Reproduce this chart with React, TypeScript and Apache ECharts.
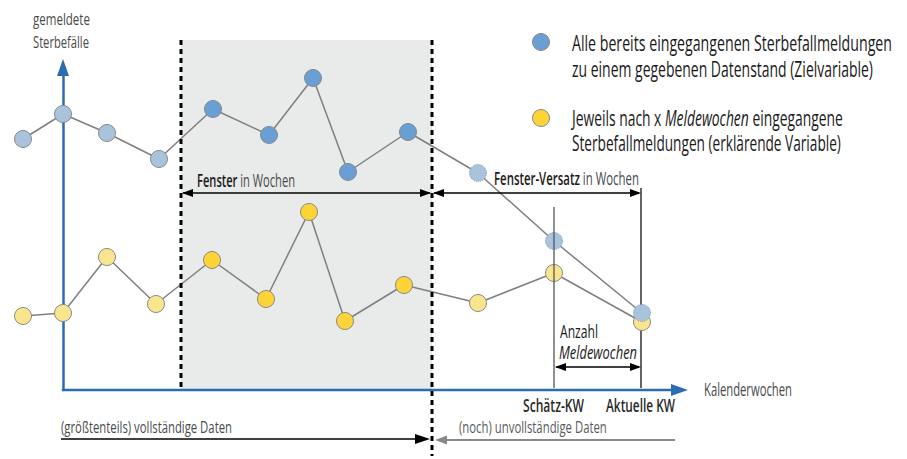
import React, { useEffect, useRef } from "react";
import * as echarts from "echarts";

// ---- data (x = position along calendar-week axis, y = reported deaths, schematic units)
const blueX = [-40, 0, 44, 96, 150, 206, 250, 285, 345, 415, 491, 579];
const blueY = [251, 276, 257, 231, 281, 255, 312, 218, 258, 217, 149, 77];
const yellowX = [-40, 0, 44, 93, 149, 203, 246, 282, 341, 415, 491, 579];
const yellowY = [74, 77, 133, 86, 130, 91, 178, 69, 105, 87, 117, 68];
const windowStart = 118;
const windowEnd = 369;
const estimateWeek = 491;
const currentWeek = 578;

const yAxisTitle = ["gemeldete", "Sterbefälle"];
const xAxisTitle = "Kalenderwochen";
const legendBlue = ["Alle bereits eingegangenen Sterbefallmeldungen", "zu einem gegebenen Datenstand (Zielvariable)"];
const legendYellowA = ["Jeweils nach x ", "Meldewochen", " eingegangene"];
const legendYellowB = "Sterbefallmeldungen (erklärende Variable)";

const FONT = "'Open Sans', 'Noto Sans', 'DejaVu Sans', sans-serif";
const AXIS_BLUE = "#2c6cb2";
const BLUE_DARK = "#699fd4";
const BLUE_LIGHT = "#a9c3dd";
const YEL_DARK = "#fdd438";
const YEL_LIGHT = "#fae58f";

function pointStyle(x: number, kind: "blue" | "yellow") {
  const inWin = x >= windowStart && x <= windowEnd;
  const future = x > windowEnd;
  if (kind === "blue") {
    return {
      color: inWin ? BLUE_DARK : BLUE_LIGHT,
      borderColor: future ? "#8195ad" : "#8a8a8a",
      borderWidth: 1,
      borderType: future ? "dotted" : "solid",
    };
  }
  return { color: inWin ? YEL_DARK : YEL_LIGHT, borderColor: "#8a8a8a", borderWidth: 1 };
}

type Seg = { t: string; weight?: string; italic?: boolean; fill?: string };

export default function App() {
  const ref = useRef<HTMLDivElement>(null);
  useEffect(() => {
    if (!ref.current) return;
    const chart = echarts.init(ref.current, null, { renderer: "svg" });
    const base: any = {
      animation: false,
      grid: { left: 10, top: 76, width: 665, height: 314 },
      xAxis: {
        type: "value", min: -53, max: 612,
        axisLine: { show: false },
        axisTick: { show: false }, axisLabel: { show: false }, splitLine: { show: false },
      },
      yAxis: {
        type: "value", min: 0, max: 314,
        axisLine: { show: true, onZero: true, lineStyle: { color: AXIS_BLUE, width: 2.5 } },
        axisTick: { show: false }, axisLabel: { show: false }, splitLine: { show: false },
      },
      series: [
        {
          type: "line", z: 2, clip: false, symbol: "circle", symbolSize: 17, showAllSymbol: true,
          lineStyle: { color: "#7f7f7f", width: 1.5 },
          data: yellowX.map((x, i) => ({ value: [x, yellowY[i]], itemStyle: pointStyle(x, "yellow") })),
        },
        {
          type: "line", z: 3, clip: false, symbol: "circle", symbolSize: 17, showAllSymbol: true,
          lineStyle: { color: "#7f7f7f", width: 1.5 },
          data: blueX.map((x, i) => ({ value: [x, blueY[i]], itemStyle: pointStyle(x, "blue") })),
        },
      ],
    };
    chart.setOption(base);

    const P = (x: number, y: number) => chart.convertToPixel({ xAxisIndex: 0, yAxisIndex: 0 }, [x, y]) as number[];
    const xs = P(windowStart, 0)[0];
    const xe = P(windowEnd, 0)[0];
    const xEst = P(estimateWeek, 0)[0];
    const xCur = P(currentWeek, 0)[0];
    const [x0, y0] = P(0, 0);
    const yTop = P(0, 314)[1];
    const xRight = P(612, 0)[0];

    const ctx = document.createElement("canvas").getContext("2d")!;
    const measure = (segs: Seg[], size: number) => {
      let w = 0;
      for (const s of segs) {
        ctx.font = `${s.italic ? "italic" : "normal"} ${s.weight || "normal"} ${size}px ${FONT}`;
        w += ctx.measureText(s.t).width;
      }
      return w;
    };

    const els: any[] = [];
    const line = (x1: number, y1: number, x2: number, y2: number, stroke = "#000", lw = 1.3, z = 5, dash?: number[]) =>
      els.push({ type: "line", z, shape: { x1, y1, x2, y2 }, style: { stroke, lineWidth: lw, lineDash: dash } });
    const head = (tipX: number, y: number, dir: 1 | -1, len: number, half: number, fill: string, z = 6) =>
      els.push({ type: "polygon", z, shape: { points: [[tipX, y], [tipX - dir * len, y - half], [tipX - dir * len, y + half]] }, style: { fill } });
    // text fitted horizontally to the reference's (condensed) width
    const text = (x: number, y: number, segs: Seg[], size: number, width: number, fill = "#222", align = "left") => {
      const rich: any = {};
      let str = "";
      segs.forEach((s, i) => {
        rich["s" + i] = { fontFamily: FONT, fontSize: size, fontWeight: s.weight || "normal", fontStyle: s.italic ? "italic" : "normal", fill: s.fill || fill };
        str += `{s${i}|${s.t}}`;
      });
      const sx = width / measure(segs, size);
      els.push({
        type: "text", z: 10, x, y, scaleX: sx,
        style: { text: str, rich, fontFamily: FONT, fontSize: size, fill, align, verticalAlign: "middle" },
      });
    };

    // window background & boundaries
    els.push({ type: "rect", z: -1, shape: { x: xs, y: 40, width: xe - xs, height: y0 - 40 }, style: { fill: "#e9eaea" } });
    line(xs, 40, xs, y0, "#000", 3, 4, [5, 4]);
    line(xe, 40, xe, 456, "#000", 3, 4, [5, 4]);

    // axis arrows
    els.push({ type: "polygon", z: 1, shape: { points: [[x0, yTop - 17], [x0 - 6, yTop], [x0 + 6, yTop]] }, style: { fill: AXIS_BLUE } });
    line(x0 - 1.2, y0, xRight - 4, y0, AXIS_BLUE, 2.5, 1);
    els.push({ type: "polygon", z: 1, shape: { points: [[xRight + 13, y0], [xRight - 4, y0 - 6], [xRight - 4, y0 + 6]] }, style: { fill: AXIS_BLUE } });

    // Fenster arrow
    const yArr = 193;
    line(xs + 2, yArr, xe - 2, yArr);
    head(xs + 1, yArr, -1, 11, 4, "#000");
    head(xe - 1, yArr, 1, 11, 4, "#000");
    text(197, 180, [{ t: "Fenster", weight: "600", fill: "#1a1a1a" }, { t: " in Wochen", fill: "#4a4a4a" }], 18, 98);

    // Fenster-Versatz arrow
    line(xe + 2, yArr, xCur - 2, yArr);
    head(xe + 1, yArr, -1, 11, 4, "#000");
    head(xCur, yArr, 1, 11, 4, "#000");
    text(494, 178, [{ t: "Fenster-Versatz", weight: "600", fill: "#1a1a1a" }, { t: " in Wochen", fill: "#4a4a4a" }], 18, 145);

    // vertical reference lines
    line(xCur, 188, xCur, y0 - 2, "#111", 1.3, 1);
    line(xEst, 207, xEst, y0 - 2, "#555", 1.3, 8);

    // Anzahl Meldewochen arrow
    const yM = 367;
    line(xEst + 2, yM, xCur - 2, yM);
    head(xEst + 1, yM, -1, 11, 4, "#000");
    head(xCur, yM, 1, 11, 4, "#000");
    text(560, 331, [{ t: "Anzahl" }], 18, 38, "#1a1a1a");
    text(559, 352, [{ t: "Meldewochen", italic: true }], 18, 78, "#1a1a1a");

    // axis titles & labels
    text(33, 18, [{ t: yAxisTitle[0] }], 17, 57, "#4a4a4a");
    text(33, 42, [{ t: yAxisTitle[1] }], 17, 56, "#4a4a4a");
    text(704, 389, [{ t: xAxisTitle }], 18, 88, "#4a4a4a");
    text(xEst - 0.5, 405, [{ t: "Schätz-KW", weight: "600" }], 18, 61, "#2a2a2a", "center");
    text(xCur - 0.5, 405, [{ t: "Aktuelle KW", weight: "600" }], 18, 69, "#2a2a2a", "center");

    // bottom data-completeness arrows
    text(61, 427, [{ t: "(größtenteils) vollständige Daten" }], 17, 171, "#4a4a4a");
    line(x0 - 2, 439, xe - 14, 439, "#000", 1.3);
    head(xe - 2, 439, 1, 15, 5, "#000");
    text(459, 427, [{ t: "(noch) unvollständige Daten" }], 17, 148, "#5a5a5a");
    line(xe + 14, 440, 675, 440, "#888", 1.8);
    head(xe + 3, 440, -1, 12, 4.5, "#888");

    // legend
    els.push({ type: "circle", z: 10, shape: { cx: 541, cy: 42, r: 8.5 }, style: { fill: BLUE_DARK, stroke: "#8a8a8a", lineWidth: 1 } });
    els.push({ type: "circle", z: 10, shape: { cx: 541, cy: 118, r: 8.5 }, style: { fill: YEL_DARK, stroke: "#8a8a8a", lineWidth: 1 } });
    text(572, 43, [{ t: legendBlue[0] }], 21, 320, "#1a1a1a");
    text(572, 69, [{ t: legendBlue[1] }], 21, 301, "#1a1a1a");
    text(572, 118, [{ t: legendYellowA[0] }, { t: legendYellowA[1], italic: true }, { t: legendYellowA[2] }], 21, 271, "#1a1a1a");
    text(572, 143, [{ t: legendYellowB }], 21, 269, "#1a1a1a");

    chart.setOption({ graphic: { elements: els } });
    return () => chart.dispose();
  }, []);
  return <div ref={ref} style={{ position: "absolute", left: 0, top: 0, width: 907, height: 459 }} />;
}
